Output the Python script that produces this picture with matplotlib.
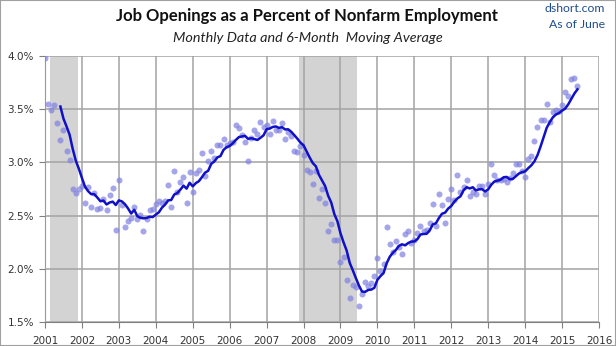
import numpy as np
import pandas as pd
import matplotlib
matplotlib.use("Agg")
import matplotlib.pyplot as plt
from matplotlib.patches import Rectangle

# Job openings as a percent of nonfarm employment, monthly, Jan 2001 - Jun 2015
openings_pct = {
    2001: [3.98, 3.55, 3.49, 3.54, 3.37, 3.21, 3.30, 3.11, 3.02, 2.75, 2.71, 2.75],
    2002: [2.78, 2.62, 2.77, 2.58, 2.71, 2.56, 2.57, 2.66, 2.55, 2.69, 2.76, 2.37],
    2003: [2.83, 2.60, 2.39, 2.45, 2.48, 2.58, 2.47, 2.51, 2.36, 2.47, 2.55, 2.56],
    2004: [2.61, 2.64, 2.62, 2.64, 2.79, 2.58, 2.92, 2.72, 2.82, 2.86, 2.62, 2.91],
    2005: [2.72, 2.90, 2.93, 3.09, 2.87, 3.01, 3.11, 3.04, 3.16, 3.16, 3.22, 3.16],
    2006: [3.18, 3.19, 3.35, 3.32, 3.26, 3.19, 3.01, 3.23, 3.30, 3.27, 3.38, 3.33],
    2007: [3.35, 3.27, 3.39, 3.30, 3.30, 3.37, 3.22, 3.28, 3.25, 3.11, 3.10, 3.15],
    2008: [3.07, 2.93, 2.91, 2.80, 2.92, 2.67, 2.75, 2.62, 2.36, 2.42, 2.27, 2.27],
    2009: [2.07, 2.11, 1.90, 1.73, 1.85, 1.83, 1.65, 1.77, 1.88, 1.84, 1.87, 1.93],
    2010: [2.10, 1.98, 2.05, 2.39, 2.23, 2.16, 2.26, 2.21, 2.14, 2.33, 2.36, 2.24],
    2011: [2.27, 2.34, 2.40, 2.36, 2.37, 2.43, 2.61, 2.40, 2.70, 2.60, 2.43, 2.66],
    2012: [2.75, 2.65, 2.88, 2.72, 2.77, 2.83, 2.68, 2.72, 2.70, 2.78, 2.78, 2.70],
    2013: [2.80, 2.98, 2.88, 2.83, 2.83, 2.84, 2.82, 2.85, 2.90, 2.98, 2.98, 2.92],
    2014: [2.86, 3.03, 3.06, 3.20, 3.33, 3.40, 3.40, 3.55, 3.38, 3.47, 3.49, 3.48],
    2015: [3.54, 3.66, 3.62, 3.78, 3.79, 3.72],
}

# recession periods (decimal years)
recessions = [(2001.13, 2001.88), (2007.88, 2009.45)]

year_ticks = list(range(2001, 2017))
pct_ticks = [1.5, 2.0, 2.5, 3.0, 3.5, 4.0]

# build the monthly series
t, v = [], []
for yr, vals in openings_pct.items():
    for m, val in enumerate(vals):
        t.append(yr + m / 12.0)
        v.append(val)
series = pd.Series(v, index=t)
ma6 = series.rolling(6).mean()

fig = plt.figure(figsize=(6.16, 3.46), dpi=100)
fig.patch.set_facecolor("white")
ax = fig.add_axes([45 / 616, 1 - 322.3 / 346, 554 / 616, 266.6 / 346])

for s, e in recessions:
    ax.axvspan(s, e, color="#d3d3d3", zorder=0, lw=0)

ax.set_xlim(2001, 2016)
ax.set_ylim(1.5, 4.0)
ax.set_xticks(year_ticks)
ax.set_xticklabels([str(y) for y in year_ticks])
ax.set_yticks(pct_ticks)
ax.set_yticklabels([f"{p:.1f}%" for p in pct_ticks])
ax.grid(True, color="#a3a3a3", lw=1.1, zorder=1)
ax.set_axisbelow(False)

ax.scatter(series.index, series.values, s=19, color="#8282e2", alpha=0.72,
           lw=0, zorder=3)
ax.plot(ma6.index, ma6.values, color="#1010c8", lw=1.8, zorder=4)

for side in ("top", "right"):
    ax.spines[side].set_visible(False)
ax.spines["left"].set_color("#808080")
ax.spines["bottom"].set_color("#808080")
ax.tick_params(axis="both", direction="out", length=4, color="#808080",
               labelsize=7.5, labelcolor="#333333", pad=4)
ax.tick_params(axis="x", pad=6)

fig.text(307 / 616, 1 - 15.5 / 346, "Job Openings as a Percent of Nonfarm Employment",
         ha="center", va="center", fontsize=12, fontweight="bold",
         family="Lato", color="#111111")
fig.text(308 / 616, 1 - 38.5 / 346, "Monthly Data and 6-Month  Moving Average",
         ha="center", va="center", fontsize=10.4, style="italic",
         family="Lato", color="#222222")
fig.text(605 / 616, 1 - 8.5 / 346, "dshort.com", ha="right", va="center",
         fontsize=8.8, family="Lato", color="#1f4e8c")
fig.text(605 / 616, 1 - 24 / 346, "As of June", ha="right", va="center",
         fontsize=8.8, family="Lato", color="#1f4e8c")

fig.patches.append(Rectangle((0, 0), 1, 1, transform=fig.transFigure,
                             fill=False, edgecolor="#a0a0a0", lw=1.5))

fig.savefig("out.png", dpi=100, facecolor="white")
